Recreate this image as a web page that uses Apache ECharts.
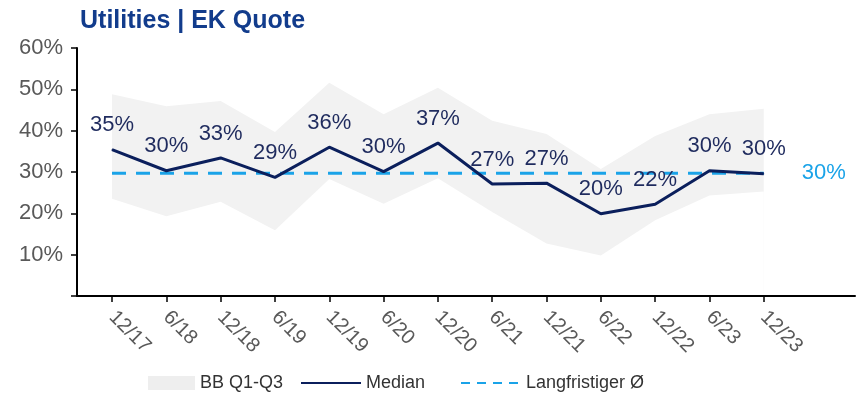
<!DOCTYPE html>
<html>
<head>
<meta charset="utf-8">
<script src="https://cdn.jsdelivr.net/npm/echarts@6/dist/echarts.min.js"></script>
<style>
    html, body { margin: 0; padding: 0; background: #ffffff; }
    #char1 { width: 858px; height: 404px; }
</style>
</head>
<body>
<div id="char1"></div>
<script>
// Halbjahres-Stichtage
var periods = ["12/17", "6/18", "12/18", "6/19", "12/19", "6/20", "12/20", "6/21", "12/21", "6/22", "12/22", "6/23", "12/23"];
// Median EK Quote (%)
var median = [35.4, 30.3, 33.4, 28.7, 36.0, 30.1, 37.0, 27.1, 27.3, 19.9, 22.2, 30.3, 29.6];
// Bandbreite Q1 / Q3 (%)
var q1 = [23.5, 19.3, 22.8, 15.9, 28.3, 22.3, 28.5, 20.3, 12.7, 9.8, 18.3, 24.3, 25.3];
var q3 = [48.8, 45.9, 47.2, 39.7, 51.6, 44.0, 50.4, 42.4, 39.2, 30.7, 38.7, 44.0, 45.3];
// langfristiger Durchschnitt
var longTermAvg = 29.7;
var yTicks = [0, 10, 20, 30, 40, 50, 60];

char1();

function char1() {
    var myChart = echarts.init(document.getElementById("char1"));
    var font = "Liberation Sans, Arial, sans-serif";

    var idx = periods.map(function (p, i) { return i; });
    var q1Data = idx.map(function (i) { return [i, q1[i]]; });
    var q3Data = idx.map(function (i) { return [i, q3[i]]; });
    var medianData = idx.map(function (i) { return [i, median[i]]; });
    var avgData = [[0, longTermAvg], [periods.length - 1, longTermAvg]];

    // eine Legende je Eintrag, damit die Abstände passen
    function legendItem(item, left, width) {
        return {
            bottom: 7,
            left: left,
            itemWidth: width,
            itemHeight: 14,
            textStyle: {
                color: "#333333",
                fontSize: 18,
                fontFamily: font,
            },
            data: [item],
        };
    }

    var option = {
        animation: false,
        title: {
            text: "Utilities | EK Quote",
            left: 75,
            top: 4,
            textStyle: {
                color: "#123c8c",
                fontSize: 25,
                fontWeight: "bold",
                fontFamily: font,
            },
        },
        legend: [
            legendItem({ name: "BB Q1-Q3", icon: "rect", itemStyle: { color: "#eeeeee" } }, 143, 47),
            legendItem({ name: "Median", itemStyle: { opacity: 0 } }, 295, 60),
            legendItem({ name: "Langfristiger Ø", itemStyle: { opacity: 0 }, lineStyle: { type: [9, 7] } }, 455, 60),
        ],
        grid: {
            left: 77,
            right: 3,
            top: 48,
            bottom: 108,
        },
        xAxis: {
            type: "value",
            min: -0.645,
            max: 13.68,
            z: 10,
            splitLine: { show: false },
            axisLine: {
                onZero: false,
                lineStyle: { color: "#000000", width: 2 },
            },
            axisTick: {
                customValues: idx,
                length: 6,
                lineStyle: { color: "#000000", width: 1.5 },
            },
            axisLabel: {
                customValues: idx,
                rotate: -45,
                margin: 18,
                color: "#595959",
                fontSize: 20,
                fontFamily: font,
                formatter: function (v) {
                    return periods[Math.round(v)];
                },
            },
        },
        yAxis: {
            type: "value",
            min: yTicks[0],
            max: yTicks[yTicks.length - 1],
            interval: 10,
            z: 10,
            splitLine: { show: false },
            axisLine: {
                show: true,
                onZero: false,
                lineStyle: { color: "#000000", width: 2 },
            },
            axisTick: {
                show: true,
                length: 6,
                lineStyle: { color: "#000000", width: 1.5 },
            },
            axisLabel: {
                color: "#595959",
                fontSize: 22,
                margin: 14,
                fontFamily: font,
                formatter: function (v) {
                    return v === 0 ? "" : v + "%";
                },
            },
        },
        series: [
            {
                name: "BB Q1-Q3",
                type: "line",
                data: q3Data,
                symbol: "none",
                z: 1,
                lineStyle: { opacity: 0 },
                itemStyle: { color: "#eeeeee" },
                areaStyle: { color: "#f2f2f2", opacity: 1 },
                silent: true,
            },
            {
                name: "q1",
                type: "line",
                data: q1Data,
                symbol: "none",
                z: 2,
                lineStyle: { opacity: 0 },
                areaStyle: { color: "#ffffff", opacity: 1 },
                silent: true,
            },
            {
                name: "Langfristiger Ø",
                type: "line",
                data: avgData,
                symbol: "none",
                z: 3,
                itemStyle: { color: "#1aa3e8" },
                lineStyle: { color: "#1aa3e8", width: 3, type: [14, 10] },
                endLabel: {
                    show: true,
                    distance: 38,
                    color: "#1aa3e8",
                    fontSize: 22,
                    fontFamily: font,
                    formatter: function () {
                        return Math.round(longTermAvg) + "%";
                    },
                },
            },
            {
                name: "Median",
                type: "line",
                data: medianData,
                symbol: "circle",
                symbolSize: 1,
                z: 4,
                itemStyle: { color: "#0b1f5c" },
                lineStyle: { color: "#0b1f5c", width: 3 },
                label: {
                    show: true,
                    position: "top",
                    distance: 13,
                    color: "#1f2b5e",
                    fontSize: 22,
                    fontFamily: font,
                    formatter: function (p) {
                        return Math.round(p.value[1]) + "%";
                    },
                },
            },
        ],
    };

    myChart.setOption(option);
    window.addEventListener("resize", function () {
        myChart.resize();
    });
}
</script>
</body>
</html>
